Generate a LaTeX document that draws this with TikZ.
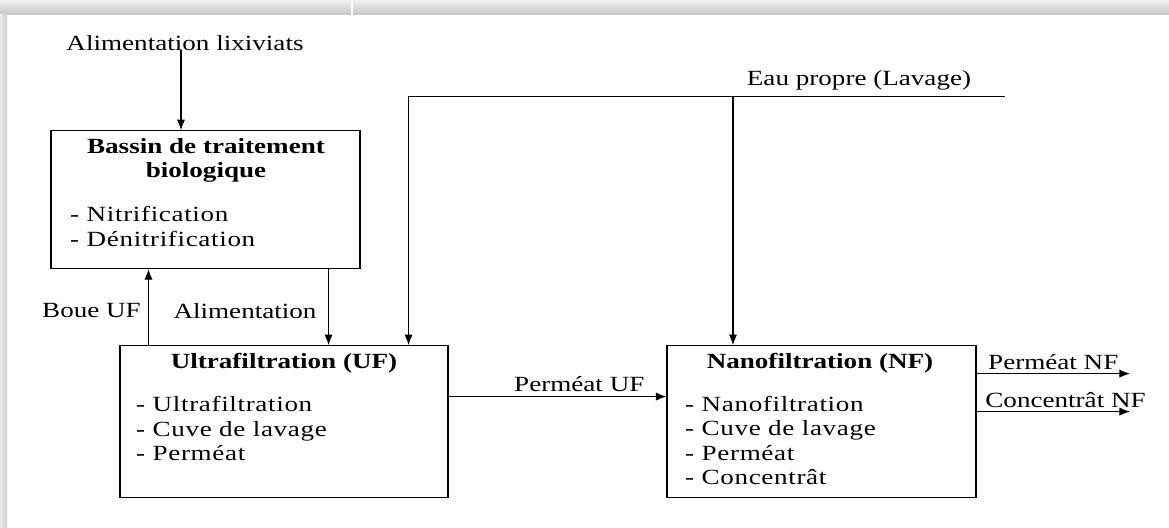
\documentclass[tikz,border=0pt]{standalone}
\usepackage{fontspec}
\setmainfont{Liberation Serif}[FakeStretch=1.25]
\usetikzlibrary{arrows.meta, calc, positioning}

\begin{document}
\begin{tikzpicture}[x=0.03cm, y=-0.03cm,
    bloc/.style={draw, line width=0.9pt, inner sep=0pt},
    titre/.style={font=\fontsize{18.5}{20.7}\selectfont\bfseries, align=center, inner sep=0pt},
    liste/.style={font=\fontsize{18.5}{20.7}\selectfont\addfontfeature{LetterSpace=3}, align=left, anchor=west, inner sep=0pt},
    etiquette/.style={font=\fontsize{18.5}{20.7}\selectfont, inner sep=0pt},
    fleche/.style={line width=0.9pt, -{Latex[length=9pt, width=7pt]}}]

    % Page shadow
    \fill[white] (0,0) rectangle (1169,527);
    \shade[top color=gray!12, bottom color=gray!45] (0,0) rectangle (1169,14);
    \shade[left color=gray!15, right color=gray!40] (0,14) rectangle (7,527);
    \draw[white, line width=1pt] (352,0) -- (352,14);
    \useasboundingbox (0,0) rectangle (1169,527);

    % Blocks
    \node[bloc, minimum width=9.27cm, minimum height=4.14cm] (bassin) at (205.5,199) {};
    \node[bloc, minimum width=9.84cm, minimum height=4.56cm] (uf) at (284,421) {};
    \node[bloc, minimum width=9.27cm, minimum height=4.56cm] (nf) at (821.5,421) {};

    \node[titre] (bassintitre) at (206,160) {Bassin de traitement\\biologique};
    \node[liste] (bassinliste) at (70,226) {- Nitrification\\- Dénitrification};
    \node[titre] (uftitre) at (284,363) {Ultrafiltration (UF)};
    \node[liste] (ufliste) at (136,428) {- Ultrafiltration\\- Cuve de lavage\\- Perméat};
    \node[titre] (nftitre) at (820,363) {Nanofiltration (NF)};
    \node[liste] (nfliste) at (685,440) {- Nanofiltration\\- Cuve de lavage\\- Perméat\\- Concentrât};

    % Feed and recirculation
    \node[etiquette] (lix) at (185,42) {Alimentation lixiviats};
    \draw[fleche] ([xshift=-0.12cm]lix.south) -- ([xshift=-0.12cm]lix.south |- bassin.north);
    \node[etiquette] (boue) at (91.5,310) {Boue UF};
    \node[etiquette] (alim) at (245,310) {Alimentation};
    \draw[fleche] ([xshift=0.87cm]uf.north west) -- ([xshift=0.87cm]uf.north west |- bassin.south);
    \draw[fleche] ([xshift=-0.96cm]bassin.south east) -- ([xshift=-0.96cm]bassin.south east |- uf.north);

    % Washing water
    \coordinate (eau) at (1005,96);
    \coordinate (lavage) at (733,96);
    \node[etiquette] (eaulbl) at (859,80) {Eau propre (Lavage)};
    \draw[fleche] (eau) -| ([xshift=-1.2cm]uf.north east);
    \draw[fleche] (lavage) -- (lavage |- nf.north);

    % Permeate and concentrate
    \draw[fleche] ([yshift=0.75cm]uf.east) -- ([yshift=0.75cm]nf.west)
        node[etiquette, pos=0.6, above=4pt] {Perméat UF};
    \coordinate (sortiepnf) at (1130,373);
    \coordinate (sortiecnf) at (1130,411);
    \draw[fleche] (nf.east |- sortiepnf) -- (sortiepnf)
        node[etiquette, midway, above=3pt] {Perméat NF};
    \draw[fleche] (nf.east |- sortiecnf) -- (sortiecnf)
        node[etiquette, pos=0.58, above=3pt] {Concentrât NF};
\end{tikzpicture}
\end{document}
